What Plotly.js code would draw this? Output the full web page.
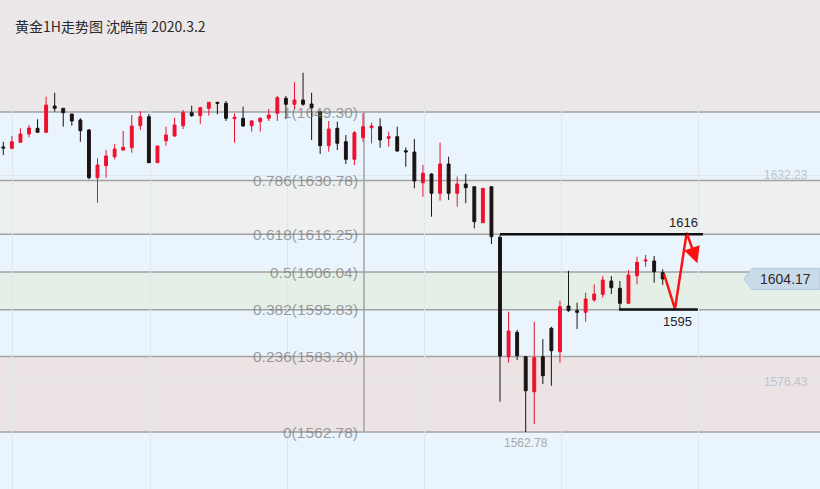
<!DOCTYPE html>
<html><head><meta charset="utf-8">
<script src="https://cdn.plot.ly/plotly-3.0.1.min.js"></script>
<style>html,body{margin:0;padding:0;background:#EAF4FC}#chart{width:820px;height:489px}</style>
</head><body><div id="chart"></div>
<script>
// ---- data ----
const titleText = '黄金1H走势图 沈皓南 2020.3.2';
const open  = [1639.84,1639.48,1641.11,1643.35,1644.89,1643.81,1650.92,1650.30,1648.76,1647.14,
               1644.43,1631.54,1634.78,1637.21,1639.02,1639.65,1645.59,1648.03,1635.59,1641.54,
               1642.81,1645.59,1649.11,1648.30,1650.30,1651.92,1651.65,1647.49,1647.60,1645.59,
               1646.68,1647.60,1648.95,1653.00,1651.38,1652.54,1651.46,1649.38,1640.19,1644.89,
               1641.27,1636.51,1642.35,1645.05,1645.32,1642.19,1642.62,1638.84,1638.48,1630.18,
               1632.54,1627.32,1635.24,1627.32,1629.83,1629.10,1619.37,1629.10,1615.42,1583.14,
               1589.74,1583.14,1573.68,1583.14,1590.82,1584.49,1596.85,1595.58,1595.14,1598.47,
               1600.01,1603.61,1601.63,1597.58,1605.04,1609.01,1609.01,1605.85];
const high  = [1641.27,1642.81,1644.89,1645.78,1647.33,1653.44,1654.52,1650.30,1648.76,1647.60,
               1644.70,1636.78,1639.02,1640.57,1644.16,1648.49,1649.57,1648.76,1640.11,1645.32,
               1647.76,1649.84,1651.00,1650.73,1651.92,1651.92,1652.27,1648.95,1650.73,1647.14,
               1647.87,1650.11,1653.62,1653.62,1657.33,1659.92,1654.52,1649.38,1646.87,1646.68,
               1643.08,1644.16,1648.95,1646.41,1647.60,1643.97,1645.32,1639.75,1642.00,1634.97,
               1632.73,1641.00,1637.21,1631.81,1632.54,1629.10,1628.67,1629.10,1616.04,1595.31,
               1590.36,1583.14,1592.60,1587.92,1591.25,1598.28,1606.39,1597.74,1600.44,1602.71,
               1604.96,1604.96,1603.61,1606.58,1610.18,1610.64,1610.37,1606.77];
const low   = [1637.67,1639.21,1641.00,1642.46,1643.70,1643.70,1649.38,1645.32,1645.59,1641.27,
               1631.10,1624.78,1631.54,1636.51,1638.84,1638.29,1644.43,1635.59,1635.59,1640.19,
               1642.62,1644.70,1648.03,1646.05,1648.30,1648.68,1646.87,1641.00,1645.32,1643.97,
               1643.97,1646.87,1646.87,1647.41,1650.03,1651.00,1641.73,1637.94,1638.57,1639.02,
               1635.24,1634.97,1641.27,1640.84,1639.65,1639.92,1638.57,1634.51,1628.67,1626.40,
               1620.99,1625.32,1625.51,1623.69,1624.61,1617.85,1619.37,1613.61,1570.97,1581.52,
               1582.25,1562.78,1564.94,1575.76,1575.30,1581.52,1595.31,1590.63,1592.60,1598.01,
               1599.09,1600.09,1595.96,1597.39,1602.71,1607.47,1603.15,1602.53];
const close = [1639.57,1641.27,1643.35,1644.97,1643.81,1651.19,1650.30,1649.11,1646.87,1644.24,
               1631.54,1634.97,1637.40,1639.29,1639.75,1645.51,1648.03,1635.59,1640.11,1643.08,
               1645.78,1649.11,1648.30,1650.46,1651.92,1651.65,1647.60,1647.87,1645.51,1646.87,
               1647.60,1648.49,1653.17,1651.38,1652.54,1651.38,1650.46,1640.19,1644.70,1640.84,
               1636.51,1643.70,1645.32,1645.51,1641.73,1642.62,1638.75,1638.48,1630.64,1632.73,
               1627.32,1635.24,1627.32,1629.83,1628.83,1619.64,1628.67,1615.58,1583.33,1590.09,
               1583.41,1573.95,1582.87,1578.00,1584.76,1596.66,1595.58,1595.14,1598.74,1600.09,
               1603.88,1601.79,1597.58,1605.23,1608.66,1609.28,1606.12,1604.17];

const fibRatios = ['1','0.786','0.618','0.5','0.382','0.236','0'];
const fibPrices = [1649.30,1630.78,1616.25,1606.04,1595.83,1583.20,1562.78];
const bandColors = ['#ECE8E9','#EAF4FC','#EEF0EF','#EAF4FC','#E4F0E7','#EAF4FC','#ECE3E4','#EAF4FC'];
const fibAnchorX = 42.12;          // candle index of the fib tool's vertical leg

const yTickVals = [1576.43, 1632.23];
const xGridVals = [1.13, 17.13, 33.13, 49.13, 65.13, 81.13];

const lastPrice = 1604.17;
const lowLabel = {x: 61, price: 1562.78};

const resistance = {label: '1616', price: 1616.25, x0: 58.0, x1: 81.7, labelX: 79.37};
const support    = {label: '1595', price: 1595.90, x0: 71.9, x1: 81.1, labelX: 78.78};
const pathX = [77.15, 78.43, 79.80];
const pathY = [1605.50, 1596.04, 1616.67];
const arrowEnd = {x: 81.04, y: 1608.40};

// ---- figure ----
const yRange = [1547.37, 1679.58];
const xRange = [-0.385, 95.365];
const xIdx = close.map((_, i) => i);

const traces = [
  {
    type: 'candlestick', x: xIdx, open: open, high: high, low: low, close: close,
    increasing: {line: {color: '#EE102E', width: 1}, fillcolor: '#EE102E'},
    decreasing: {line: {color: '#1B1212', width: 1}, fillcolor: '#1B1212'},
    whiskerwidth: 0, hoverinfo: 'skip'
  },
  {
    type: 'scatter', mode: 'lines', x: pathX, y: pathY,
    line: {color: '#FF1010', width: 2.5}, hoverinfo: 'skip'
  }
];

const shapes = [];
const edges = [yRange[1]].concat(fibPrices, [yRange[0]]);
for (let i = 0; i < bandColors.length; i++) {
  shapes.push({type: 'rect', xref: 'paper', yref: 'y', x0: 0, x1: 1, y0: edges[i + 1], y1: edges[i],
               fillcolor: bandColors[i], line: {width: 0}, layer: 'below'});
}
fibPrices.forEach(p => shapes.push({type: 'line', xref: 'paper', yref: 'y', x0: 0, x1: 1, y0: p, y1: p,
  line: {color: '#A2A2A2', width: 1.5}, layer: 'between'}));
shapes.push({type: 'line', xref: 'x', yref: 'y', x0: fibAnchorX, x1: fibAnchorX,
  y0: fibPrices[fibPrices.length - 1], y1: fibPrices[0], line: {color: '#A2A2A2', width: 1.5}, layer: 'between'});
[resistance, support].forEach(s => shapes.push({type: 'line', xref: 'x', yref: 'y', x0: s.x0, x1: s.x1,
  y0: s.price, y1: s.price, line: {color: '#111111', width: 2.5}, layer: 'above'}));
// current price tag
const tagH = 2.84;
const tx0 = 744 / 820, tx1 = 752 / 820;
shapes.push({type: 'path', xref: 'paper', yref: 'y',
  path: `M ${tx0} ${lastPrice} L ${tx1} ${lastPrice + tagH} L 1 ${lastPrice + tagH} L 1 ${lastPrice - tagH} L ${tx1} ${lastPrice - tagH} Z`,
  fillcolor: '#C9DBE9', line: {color: '#B4C7D6', width: 1}, layer: 'above'});

const annotations = [];
annotations.push({text: titleText, xref: 'paper', yref: 'paper', x: 13 / 820, y: 1 - 26 / 489,
  xanchor: 'left', yanchor: 'middle', showarrow: false,
  font: {family: 'Noto Sans CJK SC', size: 14, color: '#2A2A2A'}});
fibPrices.forEach((p, i) => annotations.push({text: `${fibRatios[i]}(${p.toFixed(2)})`,
  xref: 'paper', yref: 'y', x: 360 / 820, y: p, xanchor: 'right', yanchor: 'middle', showarrow: false,
  font: {family: 'Liberation Sans, Arial, sans-serif', size: 15.5, color: 'rgba(120,120,120,0.72)'}}));
yTickVals.forEach(v => annotations.push({text: v.toFixed(2), xref: 'paper', yref: 'y', x: 810 / 820, y: v,
  xanchor: 'right', yanchor: 'middle', showarrow: false,
  font: {family: 'Liberation Sans, Arial, sans-serif', size: 12, color: '#BFC5CE'}}));
annotations.push({text: lowLabel.price.toFixed(2), xref: 'x', yref: 'y', x: lowLabel.x, y: lowLabel.price,
  xanchor: 'center', yanchor: 'top', yshift: -2, showarrow: false,
  font: {family: 'Liberation Sans, Arial, sans-serif', size: 12, color: '#A9A9A9'}});
annotations.push({text: lastPrice.toFixed(2), xref: 'paper', yref: 'y', x: 785.5 / 820, y: lastPrice,
  xanchor: 'center', yanchor: 'middle', showarrow: false,
  font: {family: 'Liberation Sans, Arial, sans-serif', size: 14, color: '#2B2B2B'}});
annotations.push({text: resistance.label, xref: 'x', yref: 'y', x: resistance.labelX, y: resistance.price,
  xanchor: 'center', yanchor: 'bottom', yshift: 2, showarrow: false,
  font: {family: 'Liberation Sans, Arial, sans-serif', size: 13, color: '#222'}});
annotations.push({text: support.label, xref: 'x', yref: 'y', x: support.labelX, y: support.price,
  xanchor: 'center', yanchor: 'top', yshift: -2, showarrow: false,
  font: {family: 'Liberation Sans, Arial, sans-serif', size: 13, color: '#222'}});
annotations.push({text: '', xref: 'x', yref: 'y', x: arrowEnd.x, y: arrowEnd.y,
  axref: 'x', ayref: 'y', ax: pathX[pathX.length - 1], ay: pathY[pathY.length - 1],
  showarrow: true, arrowhead: 2, arrowsize: 1.3, arrowwidth: 2.5, arrowcolor: '#FF1010'});

const layout = {
  width: 820, height: 489, margin: {l: 0, r: 0, t: 0, b: 0},
  paper_bgcolor: '#EAF4FC', plot_bgcolor: '#EAF4FC', showlegend: false, boxgap: 0.52,
  xaxis: {range: xRange, rangeslider: {visible: false}, tickvals: xGridVals, showticklabels: false,
          showgrid: true, gridcolor: '#DFE6EC', gridwidth: 1, zeroline: false, showline: false, ticks: ''},
  yaxis: {range: yRange, tickvals: yTickVals, showticklabels: false, showgrid: true,
          gridcolor: '#DFE6EC', gridwidth: 1, zeroline: false, showline: false, ticks: ''},
  shapes: shapes, annotations: annotations
};

Plotly.newPlot('chart', traces, layout, {displayModeBar: false, staticPlot: true});
</script>
</body></html>
